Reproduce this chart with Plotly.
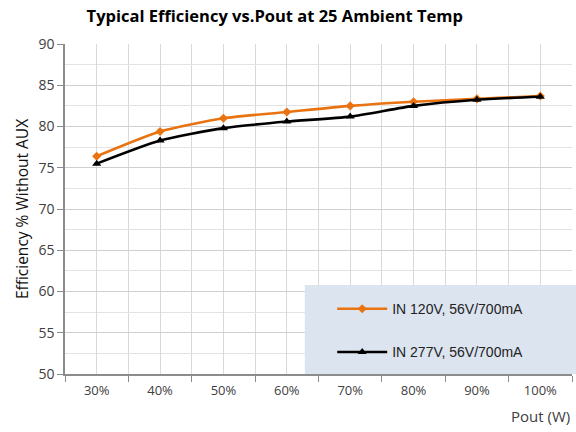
import plotly.graph_objects as go

categories = ["30%", "40%", "50%", "60%", "70%", "80%", "90%", "100%"]
eff_120v = [76.4, 79.4, 81.0, 81.75, 82.5, 83.0, 83.35, 83.7]
eff_277v = [75.5, 78.3, 79.8, 80.6, 81.2, 82.5, 83.25, 83.6]
series_names = ["IN 120V, 56V/700mA", "IN 277V, 56V/700mA"]

xi = list(range(len(categories)))

fig = go.Figure()
fig.add_trace(go.Scatter(
    x=xi, y=eff_120v, name=series_names[0], mode="lines+markers",
    line=dict(color="#E97311", width=2.6, shape="spline", smoothing=0.6),
    marker=dict(symbol="diamond", size=7, color="#E97311"),
    legendgroup="a"))
fig.add_trace(go.Scatter(
    x=xi, y=eff_277v, name=series_names[1], mode="lines+markers",
    line=dict(color="#000000", width=2.6, shape="spline", smoothing=0.6),
    marker=dict(symbol="triangle-up", size=8, color="#000000"),
    legendgroup="b"))

fig.add_shape(type="rect", xref="paper", yref="paper",
              x0=0.473, x1=1.01, y0=0, y1=0.27,
              fillcolor="#DCE4F0", line=dict(width=0), layer="above")

fig.update_layout(
    width=576, height=432,
    margin=dict(l=65, r=4, t=44, b=58),
    paper_bgcolor="white", plot_bgcolor="white",
    font=dict(family="Open Sans, Liberation Sans, sans-serif", color="#404040", size=13),
    title=dict(text="<b>Typical Efficiency vs.Pout at 25 Ambient Temp</b>",
               x=0.477, xanchor="center", y=0.962, yanchor="middle",
               font=dict(size=16.5, color="#000000")),
    showlegend=True,
    legend=dict(x=0.527, xanchor="left", y=0.245, yanchor="top",
                bgcolor="rgba(0,0,0,0)", font=dict(size=14, color="#222222",
                family="Liberation Sans, Arial, sans-serif"),
                traceorder="grouped", tracegroupgap=22, itemwidth=50),
    xaxis=dict(
        range=[-0.5, 7.5], tickvals=xi, ticktext=categories, ticks="",
        showgrid=True, gridcolor="#D9D9D9", gridwidth=1, zeroline=False,
        showline=True, linecolor="#8C8C8C", linewidth=1.5, automargin=False,
        minor=dict(tick0=-0.5, dtick=1, ticks="outside", ticklen=6,
                   tickcolor="#8C8C8C", showgrid=True, gridcolor="#D9D9D9"),
        ticklabelstandoff=4,
    ),
    yaxis=dict(
        range=[50, 90], dtick=5, ticks="outside", ticklen=6, tickcolor="#8C8C8C",
        showgrid=True, gridcolor="#D0D0D0", gridwidth=1, zeroline=False,
        showline=True, linecolor="#8C8C8C", linewidth=1.5, automargin=False,
        minor=dict(dtick=2.5, showgrid=True, gridcolor="#E3E3E3"),
        tickfont=dict(size=14),
        title=dict(text="Efficiency % Without AUX", font=dict(size=15.5, color="#111111"), standoff=6),
    ),
)

fig.add_annotation(text="Pout (W)", xref="paper", yref="paper", x=1.0, y=-0.09,
                   xanchor="right", yanchor="top", showarrow=False,
                   font=dict(size=15, color="#404040"))

fig.write_html("out.html", post_script="document.body.style.margin='0';",
               config={"displayModeBar": False})
